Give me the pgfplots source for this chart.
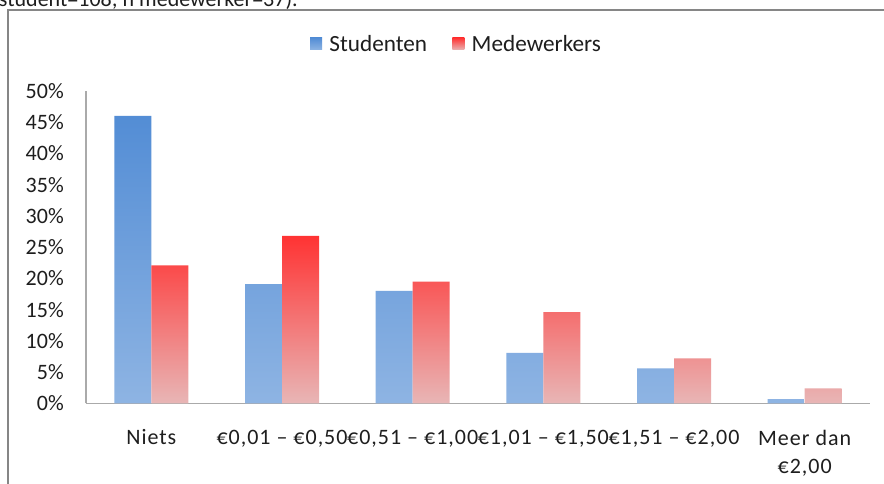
\documentclass[border=0pt]{standalone}
\usepackage{fontspec}
\setmainfont{Carlito}
\newfontfamily\lblfont[LetterSpace=4.5]{Carlito}
\usepackage{pgfplots}
\pgfplotsset{compat=1.18}
\definecolor{bTop}{RGB}{83,141,213}
\definecolor{bBot}{RGB}{142,180,227}
\definecolor{rTop}{RGB}{255,51,51}
\definecolor{rBot}{RGB}{232,182,182}
\definecolor{frame}{RGB}{134,134,134}
\definecolor{axgray}{RGB}{170,170,170}
\definecolor{txt}{RGB}{30,30,30}
\begin{document}
\begin{tikzpicture}
\path[use as bounding box, clip] (0,0) rectangle (663pt,363pt);
\fill[white] (0,0) rectangle (663pt,363pt);
\draw[frame, line width=1.5pt] (6pt,-10pt) -- (6pt,355.5pt) -- (680pt,355.5pt);
\node[anchor=base west, inner sep=0pt, text=txt, font=\fontsize{16.5}{20}\selectfont] at (-1pt,357.9pt) {student=108; n medewerker=37).};
\begin{axis}[
  at={(64.5pt,60.375pt)}, anchor=south west,
  scale only axis, width=588pt, height=234.375pt,
  xmin=-0.5, xmax=5.5, ymin=0, ymax=50,
  ybar=0pt, bar width=27.75pt,
  axis x line*=bottom, axis y line*=left,
  axis line style={draw=axgray, line width=1.2pt, -},
  major tick length=0pt,
  ytick={0,5,...,50},
  yticklabel={\pgfmathprintnumber{\tick}\%},
  /pgf/number format/assume math mode=true,
  xtick={0,1,2,3,4,5},
  xticklabels={Niets, {€0,01 – €0,50}, {€0,51 – €1,00}, {€1,01 – €1,50}, {€1,51 – €2,00}, {Meer dan\\€2,00}},
  ticklabel style={font=\fontsize{16.5}{21}\selectfont, text=txt},
  yticklabel style={inner sep=0pt, xshift=-16.5pt},
  xticklabel style={inner sep=0pt, yshift=-19.5pt, align=center, font=\lblfont\fontsize{16.5}{21}\selectfont},
  legend style={at={(axis description cs:0.473,1.1504)}, anchor=center, draw=none, fill=none,
    legend columns=2, font=\fontsize{17.4}{20}\selectfont, text=txt,
    /tikz/every even column/.append style={column sep=17pt}},
  legend cell align=left,
  clip=false,
]
\addplot[draw=none, top color=bTop, bottom color=bBot,
  legend image code/.code={\path[top color=bTop, bottom color=bBot] (0pt,-4.5pt) rectangle (9pt,4.5pt); \path (12.5pt,0pt);}]
  coordinates {(0,46.0) (1,19.1) (2,18.0) (3,8.1) (4,5.6) (5,0.7)};
\addlegendentry{Studenten}
\addplot[draw=none, top color=rTop, bottom color=rBot,
  legend image code/.code={\path[top color=rTop, bottom color=rBot] (0pt,-4.5pt) rectangle (9pt,4.5pt); \path (12.5pt,0pt);}]
  coordinates {(0,22.1) (1,26.8) (2,19.5) (3,14.6) (4,7.2) (5,2.4)};
\addlegendentry{Medewerkers}
\end{axis}
\end{tikzpicture}
\end{document}
